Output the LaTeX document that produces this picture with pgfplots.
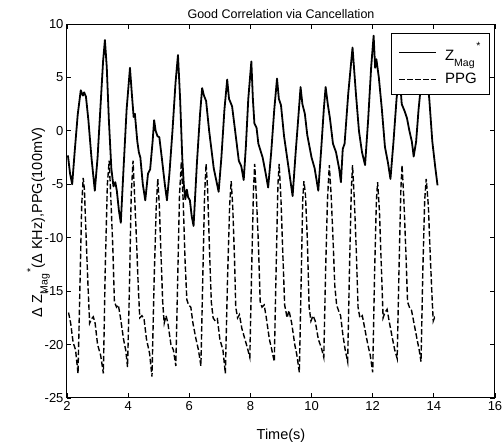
\documentclass[border=0pt]{standalone}
\usepackage{fontspec}
\setmainfont{Liberation Sans}
\usepackage{pgfplots}
\pgfplotsset{compat=1.18}

% Z_Mag with the star set after the subscript, as in the original
\newcommand\zmag[1][0.55em]{Z\raisebox{-0.38em}{\fontsize{10.5}{10.5}\selectfont Mag}\raisebox{#1}{\fontsize{10.5}{10.5}\selectfont\,*}}

% legend samples: 37pt of line, then a gap before the text
\pgfplotsset{
  legline/.style={legend image code/.code={%
      \draw[##1, line width=#1] (0pt,0pt) -- (37pt,0pt);
      \path (43pt,0pt);}},
}

\begin{document}
\begin{tikzpicture}
\begin{axis}[
    at={(0pt,0pt)}, anchor=south west,
    scale only axis,
    width=428pt, height=374pt,
    xmin=2, xmax=16, ymin=-25, ymax=10,
    xtick={2,4,...,16}, ytick={-25,-20,...,10},
    tick align=inside,
    major tick length=4.5pt,
    axis line style={line width=1pt},
    every tick/.style={black, line width=0.8pt},
    /pgf/number format/assume math mode=true,
    tick label style={font=\fontsize{13}{13}\selectfont},
    title={Good Correlation via Cancellation},
    title style={font=\fontsize{12.5}{12.5}\selectfont, yshift=-4pt},
    xlabel={Time(s)},
    xlabel style={font=\fontsize{14.5}{14.5}\selectfont, yshift=-11pt},
    ylabel={Δ \zmag(Δ KHz),PPG(100mV)},
    ylabel style={font=\fontsize{14.5}{14.5}\selectfont,
        at={(axis description cs:-0.058,0.47)}, anchor=base},
    legend cell align=left,
    legend style={at={(rel axis cs:0.9883,0.976)}, anchor=north east,
        draw=black, line width=1pt, fill=white,
        font=\fontsize{15}{15}\selectfont,
        inner xsep=7pt, inner ysep=7pt, row sep=7pt},
]
\addplot[black, line width=1.8pt, line join=round, legline=1.8pt] coordinates {
(2.03,-2.3) (2.10,-4.0) (2.17,-5.0) (2.25,-2.0) (2.35,1.5) (2.45,3.8)
(2.52,3.3) (2.56,3.6) (2.62,3.2) (2.70,1.0) (2.80,-2.5) (2.91,-5.6)
(3.00,-2.5) (3.10,2.5) (3.18,6.5) (3.24,8.5) (3.30,6.0) (3.37,1.0)
(3.45,-3.5) (3.52,-5.2) (3.58,-4.8) (3.63,-5.6) (3.70,-7.5) (3.76,-8.6)
(3.85,-3.5) (3.95,2.0) (4.06,5.9) (4.12,3.5) (4.18,1.3) (4.22,1.6)
(4.30,-1.0) (4.35,-2.0) (4.40,-2.5) (4.48,-5.0) (4.56,-6.5) (4.65,-4.0)
(4.72,-3.6) (4.80,-1.0) (4.85,1.0) (4.90,0.0) (4.96,-0.5) (5.02,-0.6)
(5.10,-2.5) (5.20,-5.0) (5.27,-6.5) (5.35,-4.0) (5.45,0.0) (5.55,4.5)
(5.63,7.1) (5.70,3.0) (5.77,-2.5) (5.82,-5.0) (5.87,-6.4) (5.92,-5.5)
(5.96,-6.2) (6.02,-6.5) (6.08,-8.0) (6.14,-8.9) (6.25,-3.0) (6.35,1.5)
(6.42,4.0) (6.48,3.3) (6.55,2.8) (6.65,0.0) (6.80,-3.5) (6.96,-5.7)
(7.05,-2.5) (7.15,2.0) (7.24,4.8) (7.30,3.0) (7.40,2.3) (7.50,0.0)
(7.62,-2.8) (7.70,-3.3) (7.78,-4.6) (7.85,-1.5) (7.93,3.0) (8.03,6.5)
(8.08,3.0) (8.13,0.7) (8.20,0.3) (8.26,-1.2) (8.40,-2.5) (8.50,-4.0)
(8.58,-5.3) (8.68,-2.0) (8.78,2.0) (8.87,4.9) (8.93,3.0) (9.00,2.4)
(9.10,-0.5) (9.25,-3.5) (9.38,-6.1) (9.48,-2.0) (9.56,1.0) (9.64,4.1)
(9.70,2.5) (9.78,1.6) (9.86,-0.4) (10.00,-2.5) (10.10,-3.5) (10.22,-5.6)
(10.32,-1.5) (10.40,2.0) (10.46,4.1) (10.53,2.5) (10.60,1.2) (10.70,-1.2)
(10.80,-2.0) (10.90,-3.5) (10.96,-4.8) (11.02,-1.7) (11.08,-1.2) (11.20,3.5)
(11.34,7.8) (11.45,3.5) (11.55,0.0) (11.65,-2.0) (11.75,-3.2) (11.85,1.0)
(11.95,6.0) (12.03,8.9) (12.08,5.9) (12.12,6.7) (12.20,5.0) (12.30,2.0)
(12.40,-1.5) (12.50,-3.0) (12.58,-4.5) (12.68,-1.0) (12.78,3.0) (12.87,5.5)
(12.95,2.5) (13.05,1.8) (13.12,1.2) (13.20,0.0) (13.28,-1.0) (13.34,-2.4)
(13.42,-1.0) (13.50,2.0) (13.62,5.5) (13.72,6.5) (13.85,3.0) (13.95,-1.0)
(14.05,-3.5) (14.12,-5.1)
};
\addlegendentry{\zmag[0.75em]}
\addplot[black, line width=1.4pt, dash pattern=on 5.5pt off 2.5pt, legline=1.4pt] coordinates {
(2.05,-17.0) (2.12,-18.0) (2.20,-19.8) (2.28,-20.5) (2.36,-22.7) (2.42,-15.0)
(2.48,-7.0) (2.53,-4.4) (2.57,-5.5) (2.62,-9.5) (2.68,-14.0) (2.74,-18.0)
(2.80,-17.6) (2.86,-17.4) (2.92,-18.0) (3.00,-20.0) (3.10,-21.0) (3.19,-22.7)
(3.25,-13.0) (3.32,-5.0) (3.38,-2.8) (3.43,-6.0) (3.50,-11.0) (3.55,-16.0)
(3.62,-16.5) (3.68,-16.3) (3.75,-17.5) (3.85,-19.5) (3.92,-20.5) (3.98,-22.1)
(4.04,-15.0) (4.10,-6.0) (4.16,-2.8) (4.21,-6.0) (4.27,-10.0) (4.33,-14.5)
(4.38,-17.5) (4.45,-17.3) (4.52,-17.6) (4.60,-19.5) (4.70,-20.8) (4.78,-23.0)
(4.85,-14.0) (4.92,-7.0) (4.97,-4.5) (5.02,-7.0) (5.08,-12.0) (5.13,-16.0)
(5.18,-18.0) (5.24,-17.3) (5.30,-18.0) (5.40,-20.0) (5.48,-20.5) (5.56,-22.0)
(5.62,-14.0) (5.68,-6.0) (5.74,-2.9) (5.80,-6.5) (5.86,-12.0) (5.92,-15.8)
(5.98,-16.3) (6.05,-16.5) (6.12,-18.0) (6.22,-19.5) (6.30,-20.5) (6.38,-22.0)
(6.44,-14.0) (6.50,-6.0) (6.55,-3.1) (6.60,-5.5) (6.66,-11.0) (6.72,-16.0)
(6.78,-17.5) (6.85,-17.8) (6.92,-17.6) (7.00,-19.5) (7.10,-20.5) (7.18,-22.7)
(7.25,-14.0) (7.32,-7.0) (7.37,-4.7) (7.42,-7.0) (7.48,-12.0) (7.52,-16.5)
(7.58,-17.5) (7.64,-17.2) (7.72,-18.5) (7.82,-19.5) (7.90,-20.3) (7.98,-21.2)
(8.04,-13.0) (8.10,-5.5) (8.14,-3.1) (8.20,-6.5) (8.26,-10.5) (8.32,-16.0)
(8.38,-16.5) (8.45,-16.3) (8.52,-17.5) (8.62,-19.5) (8.70,-20.5) (8.78,-21.6)
(8.84,-13.0) (8.90,-5.0) (8.94,-3.1) (9.00,-6.5) (9.06,-11.5) (9.12,-16.3)
(9.20,-17.5) (9.26,-16.8) (9.35,-18.0) (9.45,-20.0) (9.52,-21.0) (9.60,-22.6)
(9.66,-14.0) (9.71,-6.5) (9.75,-4.7) (9.80,-6.0) (9.86,-10.0) (9.92,-16.5)
(9.98,-17.8) (10.05,-17.3) (10.12,-17.8) (10.22,-19.5) (10.32,-20.3) (10.40,-21.2)
(10.46,-13.0) (10.52,-6.5) (10.58,-3.2) (10.64,-6.0) (10.70,-10.0) (10.76,-14.5)
(10.82,-16.3) (10.88,-16.8) (10.95,-17.3) (11.02,-19.0) (11.10,-20.5) (11.18,-21.6)
(11.24,-13.0) (11.30,-5.5) (11.34,-3.2) (11.40,-6.5) (11.46,-11.0) (11.52,-16.5)
(11.58,-17.5) (11.66,-17.3) (11.74,-18.5) (11.84,-20.0) (11.92,-21.0) (12.00,-22.6)
(12.06,-13.5) (12.12,-6.5) (12.16,-4.8) (12.22,-7.5) (12.28,-12.5) (12.34,-17.5)
(12.40,-17.0) (12.47,-16.7) (12.55,-18.0) (12.65,-19.5) (12.72,-20.5) (12.80,-21.3)
(12.86,-13.0) (12.92,-5.5) (12.96,-3.2) (13.02,-6.5) (13.08,-11.0) (13.14,-16.0)
(13.20,-16.5) (13.27,-16.8) (13.35,-18.0) (13.45,-19.5) (13.52,-20.5) (13.58,-21.6)
(13.64,-13.0) (13.70,-6.5) (13.75,-4.5) (13.82,-7.0) (13.88,-11.5) (13.94,-15.5)
(13.98,-17.8) (14.02,-17.5) (14.05,-17.7)
};
\addlegendentry{PPG}
\end{axis}
\pgfresetboundingbox
\useasboundingbox (-67pt,-44pt) rectangle (437pt,398pt);
\end{tikzpicture}
\end{document}
